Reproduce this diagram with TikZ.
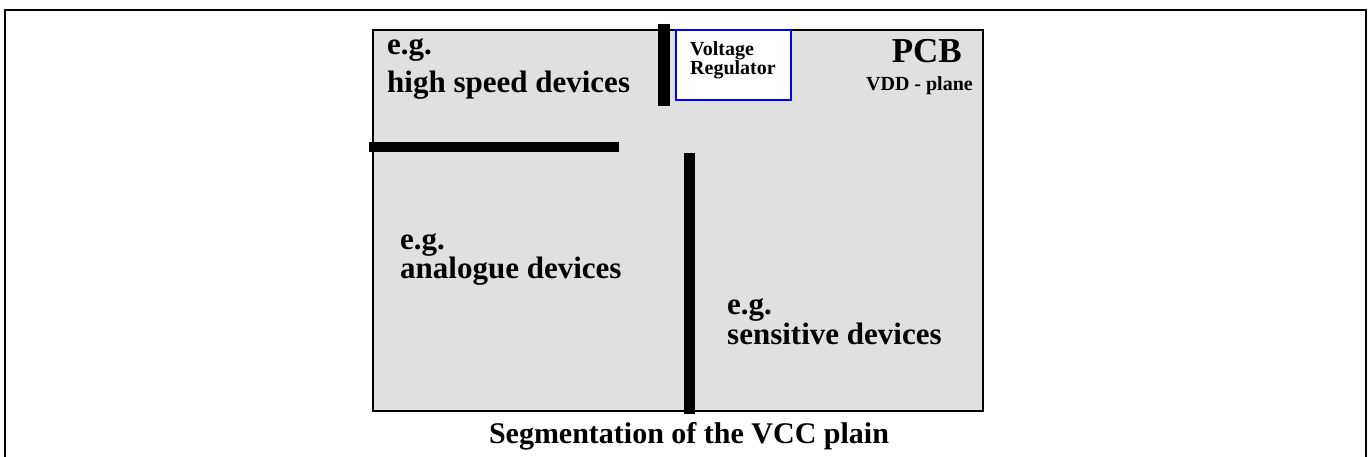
\documentclass[tikz,border=0pt]{standalone}
\usepackage{fontspec}
\setmainfont{Liberation Serif}
\usepackage{xcolor}
\definecolor{pcbgray}{HTML}{E0E0E0}
\definecolor{regblue}{HTML}{0000FF}

\begin{document}
\begin{tikzpicture}[x=1pt, y=-1pt, inner sep=0pt,
    lbl/.style={font=\fontsize{31}{31}\selectfont\bfseries, anchor=base west},
    cut/.style={fill=black}]
    \useasboundingbox (0,0) rectangle (1370,457);
    % outer frame, open at the bottom
    \draw[line width=2pt] (5,470) -- (5,10) -- (1366,10) -- (1366,470);
    % VDD plane and regulator
    \draw[fill=pcbgray, line width=2.2pt] (373,30) rectangle (983,411);
    \draw[regblue, fill=white, line width=2pt] (676,30) rectangle (791,100);
    % cuts in the plane
    \fill[cut] (658,24) rectangle (670,106);
    \fill[cut] (369,142) rectangle (619,152);
    \fill[cut] (684,153) rectangle (695,414);
    % labels
    \node[lbl] (hsEg) at (387,55) {e.g.};
    \node[lbl] (hsName) at ([yshift=-38pt]hsEg.base west) {high speed devices};
    \node[lbl] (anEg) at (400,249) {e.g.};
    \node[lbl] (anName) at ([yshift=-29pt]anEg.base west) {analogue devices};
    \node[lbl] (seEg) at (727,314) {e.g.};
    \node[lbl] (seName) at ([yshift=-30pt]seEg.base west) {sensitive devices};
    \node[font=\fontsize{20}{15}\selectfont\bfseries, align=left, anchor=north west]
      (reg) at (690,41) {Voltage\\Regulator};
    \node[font=\fontsize{35}{35}\selectfont\bfseries, anchor=base east] (pcb) at (962,63) {PCB};
    \node[font=\fontsize{20}{20}\selectfont\bfseries, anchor=base east] (vdd) at (973,91) {VDD - plane};
    \node[font=\fontsize{30}{30}\selectfont\bfseries, anchor=base] (caption) at (689,443)
      {Segmentation of the VCC plain};
\end{tikzpicture}
\end{document}
